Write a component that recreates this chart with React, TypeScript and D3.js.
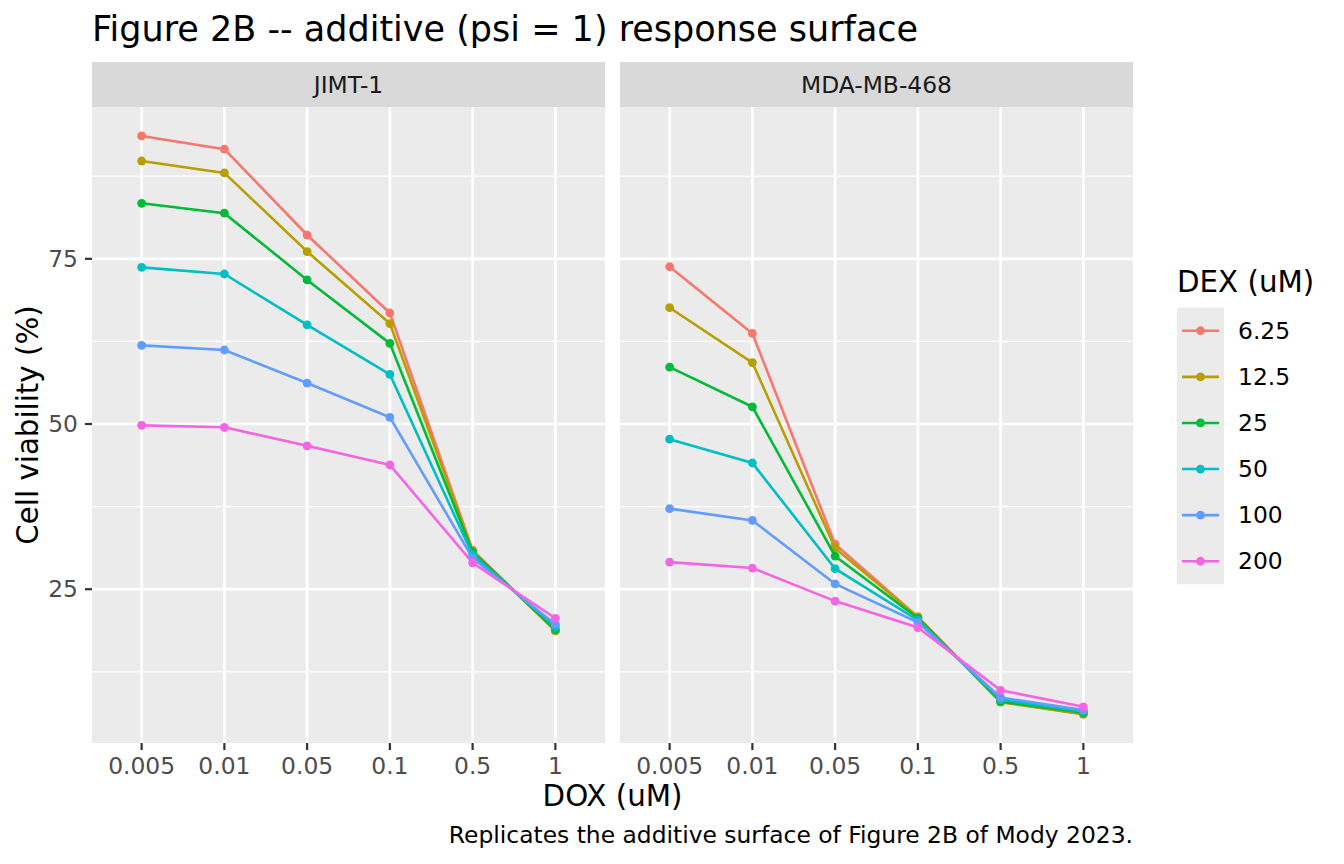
import * as d3 from 'd3';

const doses = ['0.005', '0.01', '0.05', '0.1', '0.5', '1'];
const dex = ['6.25', '12.5', '25', '50', '100', '200'];
const colors = ['#F8766D', '#B79F00', '#00BA38', '#00BFC4', '#619CFF', '#F564E3'];
const cellLines = ['JIMT-1', 'MDA-MB-468'];

// viability (%) per DEX level, one value per DOX dose
const jimt = [
  [93.6, 91.6, 78.6, 66.8, 30.9, 18.7],
  [89.8, 88.0, 76.1, 65.2, 30.8, 18.7],
  [83.4, 81.9, 71.8, 62.2, 30.6, 18.9],
  [73.7, 72.7, 65.0, 57.5, 30.2, 19.3],
  [61.9, 61.2, 56.2, 51.0, 29.7, 19.7],
  [49.8, 49.5, 46.7, 43.8, 29.0, 20.6],
];
const mda = [
  [73.8, 63.7, 31.8, 20.8, 8.0, 6.1],
  [67.6, 59.3, 31.2, 20.8, 7.9, 6.1],
  [58.6, 52.6, 30.0, 20.6, 8.0, 6.3],
  [47.7, 44.1, 28.1, 20.3, 8.3, 6.5],
  [37.2, 35.4, 25.8, 20.0, 8.6, 6.7],
  [29.1, 28.2, 23.2, 19.2, 9.7, 7.2],
];
const panels = [jimt, mda];
const yTicks = [25, 50, 75];
const yMinor = [12.5, 37.5, 62.5, 87.5];

const W = 1344;
const H = 864;
const top = 107;
const bottom = 743;
const stripTop = 62;
const panelX = [
  [92, 605],
  [620, 1133],
];
const font = 'DejaVu Sans, sans-serif';
const small = 23.4;
const mid = 29.3;

export default function App() {
  const all = panels.flat(2);
  const [lo, hi] = d3.extent(all) as [number, number];
  const pad = (hi - lo) * 0.05;
  const y = d3.scaleLinear().domain([lo - pad, hi + pad]).range([bottom, top]);

  const line = (x: d3.ScalePoint<string>) =>
    d3
      .line<number>()
      .x((_, i) => x(doses[i]) as number)
      .y((d) => y(d));

  const keyH = 46.1;
  const keyTop = 307.7;

  return (
    <svg width={W} height={H} style={{ position: 'absolute', left: 0, top: 0, background: '#fff' }} fontFamily={font}>
      <text x={92} y={41} fontSize={35} fill="#000">
        Figure 2B -- additive (psi = 1) response surface
      </text>

      {panels.map((series, p) => {
        const [x0, x1] = panelX[p];
        const x = d3.scalePoint<string>().domain(doses).range([x0, x1]).padding(0.6);
        const gen = line(x);
        return (
          <g key={p}>
            <rect x={x0} y={stripTop} width={x1 - x0} height={top - stripTop} fill="#D9D9D9" />
            <text x={(x0 + x1) / 2} y={(stripTop + top) / 2} dy="0.35em" textAnchor="middle" fontSize={small} fill="#1A1A1A">
              {cellLines[p]}
            </text>
            <rect x={x0} y={top} width={x1 - x0} height={bottom - top} fill="#EBEBEB" />
            {yMinor.map((v) => (
              <line key={'m' + v} x1={x0} x2={x1} y1={y(v)} y2={y(v)} stroke="#fff" strokeWidth={1.3} />
            ))}
            {yTicks.map((v) => (
              <line key={'g' + v} x1={x0} x2={x1} y1={y(v)} y2={y(v)} stroke="#fff" strokeWidth={2.7} />
            ))}
            {doses.map((d) => (
              <line key={'v' + d} x1={x(d)} x2={x(d)} y1={top} y2={bottom} stroke="#fff" strokeWidth={2.7} />
            ))}
            {series.map((vals, s) => (
              <g key={s}>
                <path d={gen(vals) || ''} fill="none" stroke={colors[s]} strokeWidth={2.6} />
                {vals.map((v, i) => (
                  <circle key={i} cx={x(doses[i])} cy={y(v)} r={4.4} fill={colors[s]} />
                ))}
              </g>
            ))}
            {doses.map((d) => (
              <g key={'t' + d}>
                <line x1={x(d)} x2={x(d)} y1={bottom} y2={bottom + 7} stroke="#333" strokeWidth={2.2} />
                <text x={x(d)} y={774} textAnchor="middle" fontSize={small} fill="#4D4D4D">
                  {d}
                </text>
              </g>
            ))}
          </g>
        );
      })}

      {yTicks.map((v) => (
        <g key={'yt' + v}>
          <line x1={85} x2={92} y1={y(v)} y2={y(v)} stroke="#333" strokeWidth={2.2} />
          <text x={78} y={y(v)} dy="0.35em" textAnchor="end" fontSize={small} fill="#4D4D4D">
            {v}
          </text>
        </g>
      ))}

      <text transform={`translate(38, ${(top + bottom) / 2}) rotate(-90)`} textAnchor="middle" fontSize={mid} fill="#000">
        Cell viability (%)
      </text>
      <text x={(panelX[0][0] + panelX[1][1]) / 2} y={806} textAnchor="middle" fontSize={mid} fill="#000">
        DOX (uM)
      </text>
      <text x={1133} y={843} textAnchor="end" fontSize={small} fill="#000">
        Replicates the additive surface of Figure 2B of Mody 2023.
      </text>

      <text x={1177} y={292} fontSize={mid} fill="#000">
        DEX (uM)
      </text>
      <rect x={1177} y={keyTop} width={47} height={keyH * dex.length} fill="#EBEBEB" />
      {dex.map((d, i) => {
        const cy = keyTop + keyH * (i + 0.5);
        return (
          <g key={d}>
            <line x1={1182} x2={1219} y1={cy} y2={cy} stroke={colors[i]} strokeWidth={2.6} />
            <circle cx={1200.5} cy={cy} r={4.4} fill={colors[i]} />
            <text x={1238} y={cy} dy="0.35em" fontSize={small} fill="#000">
              {d}
            </text>
          </g>
        );
      })}
    </svg>
  );
}
